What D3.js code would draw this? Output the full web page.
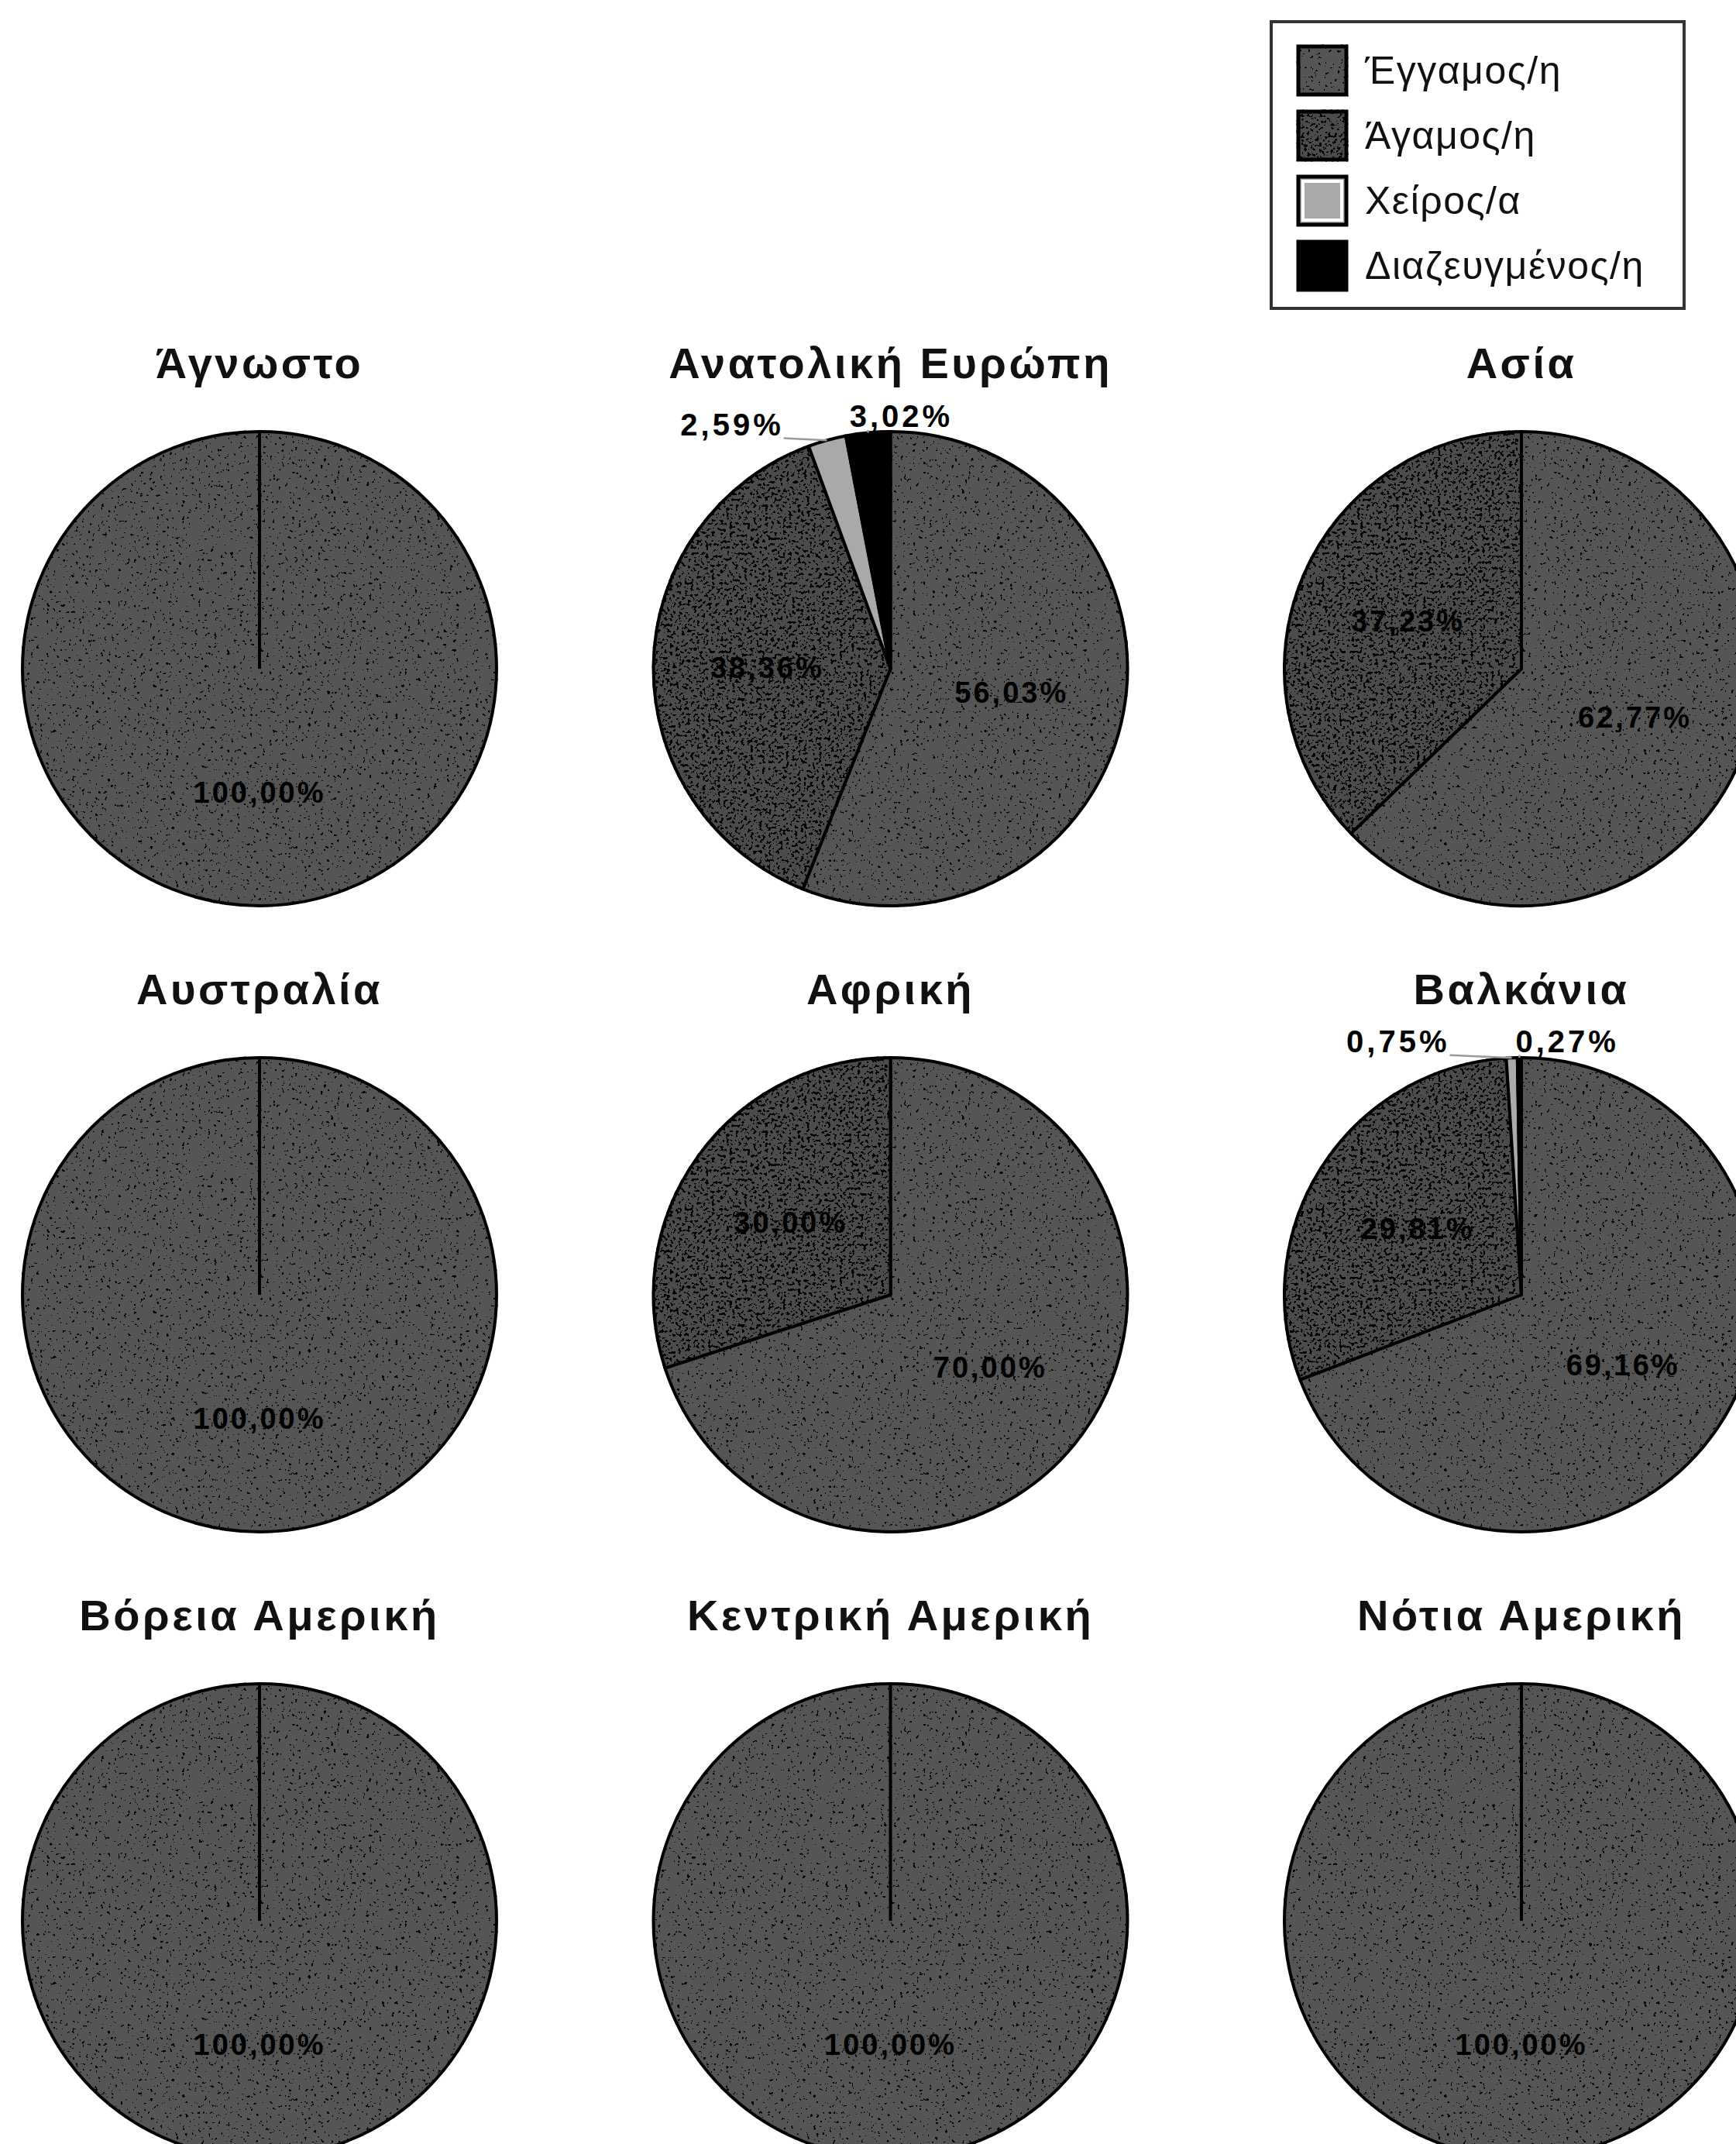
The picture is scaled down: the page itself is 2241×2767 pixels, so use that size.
<!DOCTYPE html>
<html><head><meta charset="utf-8">
<script src="https://cdn.jsdelivr.net/npm/d3@7"></script>
<style>html,body{margin:0;padding:0;background:#fff;} svg{display:block}</style>
</head><body>
<svg id="chart" width="2241" height="2767"></svg>
<script>
// ---- data ----
const regions = ["Άγνωστο", "Ανατολική Ευρώπη", "Ασία", "Αυστραλία", "Αφρική", "Βαλκάνια", "Βόρεια Αμερική", "Κεντρική Αμερική", "Νότια Αμερική"];
const categories = ["Έγγαμος/η", "Άγαμος/η", "Χείρος/α", "Διαζευγμένος/η"];
const married  = [100, 56.03, 62.77, 100, 70.00, 69.16, 100, 100, 100];
const single   = [0, 38.36, 37.23, 0, 30.00, 29.81, 0, 0, 0];
const widowed  = [0, 2.59, 0, 0, 0, 0.75, 0, 0, 0];
const divorced = [0, 3.02, 0, 0, 0, 0.27, 0, 0, 0];
const series = [married, single, widowed, divorced];

// ---- setup ----
const W = 2241, H = 2767, R = 306;
const svg = d3.select('#chart');
svg.append('rect').attr('width', W).attr('height', H).attr('fill', '#fff');
const defs = svg.append('defs');

function speckle(id, threshold, seed, freq) {
  const f = defs.append('filter').attr('id', id)
    .attr('x', '-5%').attr('y', '-5%').attr('width', '110%').attr('height', '110%')
    .attr('color-interpolation-filters', 'sRGB');
  f.append('feTurbulence').attr('type', 'fractalNoise').attr('baseFrequency', freq)
    .attr('numOctaves', 2).attr('seed', seed).attr('result', 'noise');
  f.append('feColorMatrix').attr('in', 'noise').attr('type', 'matrix')
    .attr('values', '0 0 0 0 0  0 0 0 0 0  0 0 0 0 0  1 0 0 0 0').attr('result', 'a');
  const n = 40;
  const table = d3.range(n).map(i => (i / n >= threshold ? 1 : 0)).join(' ');
  f.append('feComponentTransfer').attr('in', 'a').attr('result', 'dots')
    .append('feFuncA').attr('type', 'discrete').attr('tableValues', table);
  f.append('feComposite').attr('in', 'dots').attr('in2', 'SourceAlpha').attr('operator', 'in').attr('result', 'dc');
  const m = f.append('feMerge');
  m.append('feMergeNode').attr('in', 'SourceGraphic');
  m.append('feMergeNode').attr('in', 'dc');
}
speckle('spSparse', 0.68, 3, 0.24);
speckle('spDense', 0.58, 11, 0.26);

const color = d3.scaleOrdinal(categories, ['#555555', '#4c4c4c', '#a9a9a9', '#000000']);
const filt = d3.scaleOrdinal(categories, ['url(#spSparse)', 'url(#spDense)', null, null]);

const xScale = d3.scalePoint().domain([0, 1, 2]).range([335, 1964]);
const yScale = d3.scalePoint().domain([0, 1, 2]).range([863, 2479]);

const pie = d3.pie().sort(null).value(d => d.value);
const arc = d3.arc().innerRadius(0).outerRadius(R);
const labelArc = d3.arc().innerRadius(R * 0.52).outerRadius(R * 0.52);
const fmt = v => v.toFixed(2).replace('.', ',') + '%';

const FONT = "'Liberation Sans', Arial, sans-serif";

regions.forEach((name, i) => {
  const cx = xScale(i % 3), cy = yScale(Math.floor(i / 3));
  const data = categories.map((c, k) => ({ cat: c, value: series[k][i] })).filter(d => d.value > 0);
  const arcs = pie(data);
  const g = svg.append('g').attr('transform', `translate(${cx},${cy})`);

  g.selectAll('path.slice').data(arcs).join('path')
    .attr('class', 'slice')
    .attr('d', arc)
    .attr('fill', d => color(d.data.cat))
    .attr('stroke', '#000').attr('stroke-width', 4).attr('stroke-linejoin', 'round')
    .attr('filter', d => filt(d.data.cat));

  if (arcs.length === 1) {
    g.append('line').attr('x1', 0).attr('y1', 0).attr('x2', 0).attr('y2', -R)
      .attr('stroke', '#000').attr('stroke-width', 4);
  }

  // title
  svg.append('text').attr('x', cx).attr('y', cy - 375)
    .attr('text-anchor', 'middle')
    .attr('font-family', FONT).attr('font-size', 56).attr('font-weight', 'bold')
    .attr('letter-spacing', 3.5).attr('fill', '#111')
    .text(name);

  // inside labels
  const inside = arcs.filter(d => d.data.value >= 5);
  g.selectAll('text.in').data(inside).join('text')
    .attr('class', 'in')
    .attr('transform', d => `translate(${labelArc.centroid(d)})`)
    .attr('dy', '0.36em')
    .attr('text-anchor', 'middle')
    .attr('font-family', FONT).attr('font-size', 38).attr('font-weight', 'bold')
    .attr('letter-spacing', 3).attr('fill', '#000')
    .text(d => fmt(d.data.value));

  // outside labels
  const outside = arcs.filter(d => d.data.value < 5);
  if (outside.length) {
    const items = outside.map(d => {
      const a = (d.startAngle + d.endAngle) / 2;
      const t = g.append('text')
        .attr('text-anchor', 'middle')
        .attr('font-family', FONT).attr('font-size', 40).attr('font-weight', 'bold')
        .attr('letter-spacing', 4).attr('fill', '#000')
        .text(fmt(d.data.value));
      const w = t.node().getBBox().width;
      return { d, a, t, w, x: Math.sin(a) * R * 1.15, y: -Math.cos(a) * R * 1.07 };
    });
    items.sort((p, q) => p.x - q.x);
    const gap = 85;
    for (let k = 1; k < items.length; k++) {
      const L = items[k - 1], Rt = items[k];
      const need = (L.w + Rt.w) / 2 + gap;
      const sep = Rt.x - L.x;
      if (sep < need) {
        const push = need - sep;
        L.x -= push * 0.7;
        Rt.x += push * 0.3;
      }
    }
    items.forEach(it => {
      const base = it.y + 14;
      it.t.attr('x', it.x).attr('y', base);
      const px = Math.sin(it.a) * R, py = -Math.cos(it.a) * R;
      const lx = Math.max(it.x - it.w / 2, Math.min(it.x + it.w / 2, px));
      g.insert('line', 'text')
        .attr('x1', px).attr('y1', py).attr('x2', lx).attr('y2', base + 4)
        .attr('stroke', '#999').attr('stroke-width', 2.5);
    });
  }
});

// ---- legend ----
const lg = svg.append('g').attr('transform', 'translate(1641,28)');
lg.append('rect').attr('width', 533).attr('height', 370)
  .attr('fill', '#fff').attr('stroke', '#333').attr('stroke-width', 4);
const rowY = d3.scalePoint().domain(categories).range([32, 284]);
const items = lg.selectAll('g.item').data(categories).join('g')
  .attr('class', 'item')
  .attr('transform', d => `translate(35,${rowY(d)})`);
items.append('rect').attr('width', 62).attr('height', 62)
  .attr('fill', d => color(d)).attr('stroke', '#000').attr('stroke-width', 5)
  .attr('filter', d => filt(d));
items.filter(d => d === categories[2]).append('rect')
  .attr('x', 6).attr('y', 6).attr('width', 50).attr('height', 50)
  .attr('fill', 'none').attr('stroke', '#fff').attr('stroke-width', 4);
items.append('text').attr('x', 86).attr('y', 48)
  .attr('font-family', FONT).attr('font-size', 50)
  .attr('letter-spacing', 1.5).attr('fill', '#111')
  .text(d => d);
</script>
</body></html>
